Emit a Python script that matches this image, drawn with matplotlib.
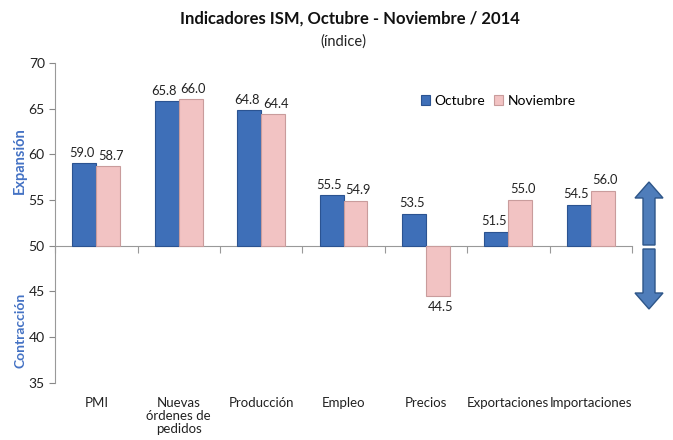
import matplotlib.pyplot as plt
import numpy as np
from matplotlib.patches import FancyArrow
from matplotlib.transforms import blended_transform_factory

plt.rcParams['font.family'] = ['Lato', 'DejaVu Sans']

categories = ['PMI', 'Nuevas\nórdenes de\npedidos', 'Producción', 'Empleo',
              'Precios', 'Exportaciones', 'Importaciones']
octubre = [59.0, 65.8, 64.8, 55.5, 53.5, 51.5, 54.5]
noviembre = [58.7, 66.0, 64.4, 54.9, 44.5, 55.0, 56.0]
base = 50

blue = '#3E6FB8'
blue_edge = '#2B5391'
pink = '#F2C3C3'
pink_edge = '#C99C9C'

fig = plt.figure(figsize=(6.73, 4.4), dpi=100)
ax = fig.add_axes([0.082, 0.13, 0.857, 0.727])

x = np.arange(len(categories))
w = 0.29
ax.bar(x - w / 2, np.array(octubre) - base, bottom=base, width=w,
       color=blue, edgecolor=blue_edge, linewidth=0.8, label='Octubre', zorder=3)
ax.bar(x + w / 2, np.array(noviembre) - base, bottom=base, width=w,
       color=pink, edgecolor=pink_edge, linewidth=0.8, label='Noviembre', zorder=3)

# value labels
nudge = 0.03
for i in range(len(categories)):
    ax.text(x[i] - w / 2 - nudge, octubre[i] + 0.5, f'{octubre[i]:.1f}', ha='center',
            va='bottom', fontsize=9.3, color='#222222')
    if noviembre[i] >= base:
        ax.text(x[i] + w / 2 + nudge, noviembre[i] + 0.5, f'{noviembre[i]:.1f}', ha='center',
                va='bottom', fontsize=9.3, color='#222222')
    else:
        ax.text(x[i] + w / 2 + nudge, noviembre[i] - 0.6, f'{noviembre[i]:.1f}', ha='center',
                va='top', fontsize=9.3, color='#222222')

ax.set_xlim(-0.5, len(categories) - 0.5)
ax.set_ylim(35, 70)
ax.set_yticks(range(35, 71, 5))
ax.tick_params(axis='y', labelsize=10, length=4, color='#888888', labelcolor='#222222')

ax.spines['top'].set_visible(False)
ax.spines['right'].set_visible(False)
ax.spines['bottom'].set_position(('data', base))
ax.spines['bottom'].set_color('#999999')
ax.spines['left'].set_color('#999999')
ax.set_xticks(np.arange(-0.5, len(categories)))
ax.set_xticklabels([])
ax.tick_params(axis='x', direction='out', length=5, color='#999999')

trans = blended_transform_factory(ax.transData, ax.transAxes)
for i, c in enumerate(categories):
    ax.text(x[i], -0.045, c, transform=trans, ha='center', va='top',
            fontsize=9.5, color='#222222', linespacing=1.1)

ax.legend(loc='upper left', bbox_to_anchor=(0.612, 0.94), ncol=2, frameon=False,
          fontsize=10, handlelength=0.7, handleheight=0.7, handletextpad=0.3,
          columnspacing=0.6)

fig.text(0.52, 0.959, 'Indicadores ISM, Octubre - Noviembre / 2014', ha='center',
         va='center', fontsize=12, fontweight='bold', color='#111111')
fig.text(0.51, 0.905, '(índice)', ha='center', va='center', fontsize=10.5, color='#222222')

fig.text(0.03, 0.636, 'Expansión', rotation=90, ha='center', va='center',
         fontsize=10.5, fontweight='bold', color='#4472C4')
fig.text(0.03, 0.25, 'Contracción', rotation=90, ha='center', va='center',
         fontsize=10, fontweight='bold', color='#4472C4')

# expansion / contraction arrows
arrow_x = 649 / 673
fig.patches.append(FancyArrow(arrow_x, (440 - 245) / 440, 0, 63 / 440, width=12 / 673,
                              head_width=28 / 673, head_length=16 / 440,
                              length_includes_head=True, transform=fig.transFigure,
                              facecolor='#4F7DBA', edgecolor='#2E5689', linewidth=1))
fig.patches.append(FancyArrow(arrow_x, (440 - 249) / 440, 0, -60 / 440, width=12 / 673,
                              head_width=28 / 673, head_length=16 / 440,
                              length_includes_head=True, transform=fig.transFigure,
                              facecolor='#4F7DBA', edgecolor='#2E5689', linewidth=1))

fig.savefig('out.png', dpi=100)
